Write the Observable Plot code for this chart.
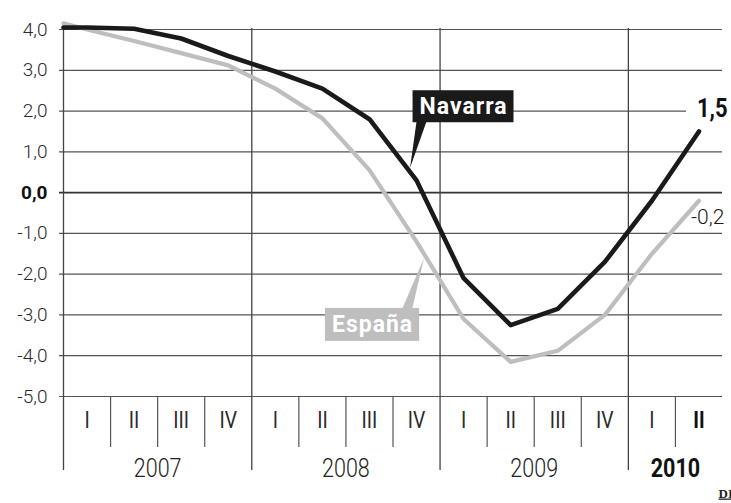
<!DOCTYPE html>
<html><head><meta charset="utf-8">
<script src="https://cdn.jsdelivr.net/npm/d3@7"></script>
<script src="https://cdn.jsdelivr.net/npm/@observablehq/plot@0.6"></script>
<style>
html,body{margin:0;padding:0;background:#fff;overflow:hidden;}
#chart svg{display:block;}
</style></head><body><div id="chart"></div>
<script>
// ---- Datos ----
const trimestres = ["I","II","III","IV","I","II","III","IV","I","II","III","IV","I","II"];
const anios = ["2007","2008","2009","2010"];
const trimestresPorAnio = [4, 4, 4, 2];
const navarra = [4.05, 4.02, 3.78, 3.35, 2.97, 2.55, 1.80, 0.30, -2.10, -3.25, -2.85, -1.70, -0.20, 1.50];
const espana  = [4.00, 3.72, 3.42, 3.12, 2.55, 1.82, 0.55, -1.20, -3.10, -4.15, -3.88, -3.00, -1.50, -0.20];
const inicioNavarra = 4.05;   // valor al inicio del eje (borde izquierdo)
const inicioEspana = 4.15;
const marcasY = [4, 3, 2, 1, 0, -1, -2, -3, -4, -5];
const nombreNavarra = "Navarra";
const nombreEspana = "España";
const fuente = "DIARIO DE NAVARRA";

// ---- Preparación ----
const fmt = v => v.toFixed(1).replace(".", ",");
const serie = (inicio, vals) => [{t: 0, v: inicio}, ...vals.map((v, i) => ({t: i + 0.5, v}))];
const serieNavarra = serie(inicioNavarra, navarra);
const serieEspana = serie(inicioEspana, espana);
const limites = [0];
trimestresPorAnio.forEach(n => limites.push(limites[limites.length - 1] + n));
const limitesAnio = limites.slice(0, -1);
const divisoresTrim = d3.range(1, trimestres.length).filter(t => !limites.includes(t));
const quarterData = trimestres.map((q, i) => ({t: i + 0.5, q, bold: i === trimestres.length - 1}));
const yearData = anios.map((a, i) => ({t: (limites[i] + limites[i + 1]) / 2, a, bold: i === anios.length - 1}));
const finNavarra = {t: navarra.length - 0.5, v: navarra[navarra.length - 1]};
const finEspana = {t: espana.length - 0.5, v: espana[espana.length - 1]};
const puntoNavarra = {t: 7.5, v: navarra[7]};
const puntoEspana = {t: 7.5, v: espana[7]};

const gris = "#bebebe";
const negro = "#1a1a1a";
const rejilla = "#555";

const chart = Plot.plot({
  width: 731,
  height: 503,
  marginLeft: 63,
  marginRight: 9,
  marginTop: 29,
  marginBottom: 107,
  x: {type: "linear", domain: [0, trimestres.length], axis: null},
  y: {domain: [-5, 4], axis: null},
  style: {background: "#fff", fontFamily: "Roboto, sans-serif"},
  marks: [
    Plot.ruleY(marcasY.filter(v => v !== 0 && v !== 2), {stroke: rejilla, strokeWidth: 1.2, insetLeft: -4}),
    Plot.ruleY([2], {stroke: rejilla, strokeWidth: 1.2, insetLeft: -4, insetRight: 36}),
    Plot.ruleY([0], {stroke: "#333", strokeWidth: 1.6, insetLeft: -4}),
    Plot.ruleX(limitesAnio, {stroke: "#444", strokeWidth: 1.3, insetBottom: -74, insetTop: -1}),
    Plot.ruleX(divisoresTrim, {stroke: rejilla, strokeWidth: 1.2, insetTop: 367, insetBottom: -51}),
    Plot.text(marcasY.filter(v => v !== 0), {x: 0, y: d => d, text: fmt, textAnchor: "end", dx: -16,
      fontFamily: "Roboto", fontWeight: 300, fontSize: 19, fill: "#2a2a2a"}),
    Plot.text([0], {x: 0, y: d => d, text: fmt, textAnchor: "end", dx: -16,
      fontFamily: "Roboto", fontWeight: "bold", fontSize: 19, fill: "#111"}),
    Plot.text(quarterData.filter(d => !d.bold), {x: "t", y: () => -5, text: "q", dy: 24,
      fontFamily: "Roboto", fontWeight: "normal", fontSize: 23, fill: "#2a2a2a"}),
    Plot.text(quarterData.filter(d => d.bold), {x: "t", y: () => -5, text: "q", dy: 24,
      fontFamily: "Roboto", fontWeight: "bold", fontSize: 23, fill: "#111"}),
    Plot.text(yearData.filter(d => !d.bold), {x: "t", y: () => -5, text: "a", dy: 72,
      fontFamily: "Roboto", fontWeight: 300, fontSize: 25, fill: "#222"}),
    Plot.text(yearData.filter(d => d.bold), {x: "t", y: () => -5, text: "a", dy: 72,
      fontFamily: "Roboto", fontWeight: "bold", fontSize: 25, fill: "#111"}),
    Plot.line(serieEspana, {x: "t", y: "v", stroke: gris, strokeWidth: 4.2}),
    Plot.line(serieNavarra, {x: "t", y: "v", stroke: negro, strokeWidth: 4.6}),
    Plot.text([finNavarra], {x: "t", y: "v", text: d => fmt(d.v), textAnchor: "start", dx: -2, dy: -22,
      fontFamily: "Roboto", fontWeight: "bold", fontSize: 25, fill: "#111"}),
    Plot.text([finEspana], {x: "t", y: "v", text: d => fmt(d.v), textAnchor: "start", dx: -8, dy: 16,
      fontFamily: "Roboto", fontWeight: 300, fontSize: 21, fill: "#1a1a1a"}),
    Plot.text([puntoNavarra], {x: "t", y: "v", text: () => nombreNavarra, dx: 47, dy: -74,
      fontFamily: "Roboto", fontWeight: "bold", fontSize: 23, fill: "#fff"}),
    Plot.text([puntoEspana], {x: "t", y: "v", text: () => nombreEspana, dx: -44, dy: 83,
      fontFamily: "Roboto", fontWeight: "bold", fontSize: 23, fill: "#fff"}),
    Plot.text([fuente], {frameAnchor: "bottom-right", text: d => d, textAnchor: "start", lineAnchor: "bottom",
      dx: -4, dy: 101, fontFamily: "'Liberation Serif', serif", fontWeight: "bold", fontSize: 13, fill: "#222"})
  ]
});
document.getElementById("chart").append(chart);

// ---- Texto condensado (como la tipografía estrecha del original) ----
const condensar = new Map([
  ...trimestres.map(q => [q, 0.84]),
  ...anios.map(a => [a, 0.86]),
  [fmt(finNavarra.v), 0.88]
]);
d3.select(chart).selectAll("text").each(function () {
  const k = condensar.get(this.textContent);
  if (k) {
    const w = this.getComputedTextLength();
    this.setAttribute("textLength", (w * k).toFixed(2));
    this.setAttribute("lengthAdjust", "spacingAndGlyphs");
  }
});

// ---- Cajas de etiqueta con puntero ----
const sx = chart.scale("x"), sy = chart.scale("y");
const svgBox = chart.getBoundingClientRect();
function buscaTexto(contenido) {
  return d3.select(chart).selectAll("text").filter(function () { return this.textContent === contenido; }).node();
}
function caja(contenido, color, punto, punta, base, alto) {
  const t = buscaTexto(contenido);
  t.style.letterSpacing = "1px";
  const r = t.getBoundingClientRect();
  const x0 = r.left - svgBox.left - 7, x1 = r.right - svgBox.left + 6;
  const cy = (r.top + r.bottom) / 2 - svgBox.top;
  const y0 = cy - alto / 2, y1 = cy + alto / 2;
  const g = document.createElementNS("http://www.w3.org/2000/svg", "g");
  t.parentNode.parentNode.insertBefore(g, t.parentNode);
  const sel = d3.select(g);
  sel.append("rect").attr("x", x0).attr("y", y0).attr("width", x1 - x0).attr("height", y1 - y0).attr("fill", color);
  const px = sx.apply(punto.t) + punta[0], py = sy.apply(punto.v) + punta[1];
  const by = base.arriba ? y0 + 1 : y1 - 1;
  const bx = base.desdeDerecha ? x1 - base.offset : x0 + base.offset;
  sel.append("polygon")
    .attr("points", `${bx},${by} ${bx + base.ancho},${by} ${px},${py}`)
    .attr("fill", color);
}
caja(nombreNavarra, negro, puntoNavarra, [-6, -12], {arriba: false, desdeDerecha: false, offset: 4, ancho: 10}, 32);
caja(nombreEspana, gris, puntoEspana, [8, 17], {arriba: true, desdeDerecha: true, offset: 17, ancho: 10}, 33);
const f = buscaTexto(fuente);
if (f) f.style.textDecoration = "underline";
</script>
</body></html>
